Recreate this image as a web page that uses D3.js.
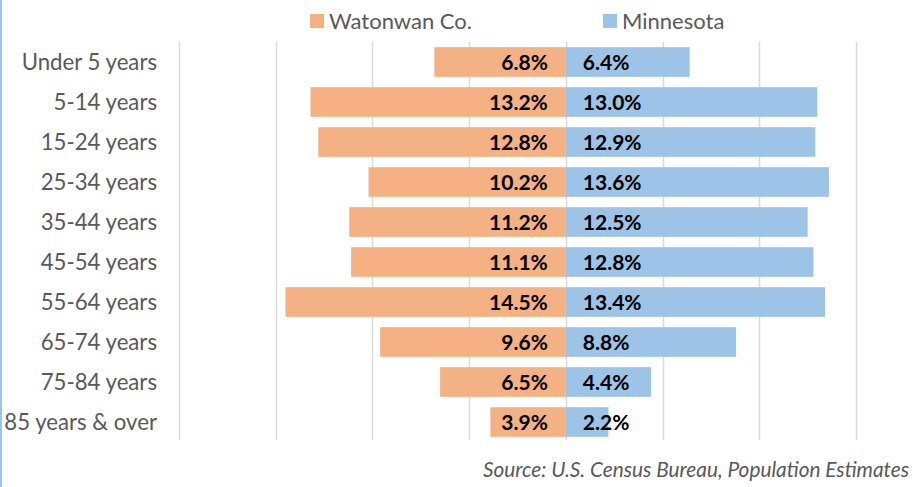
<!DOCTYPE html>
<html>
<head>
<meta charset="utf-8">
<script src="https://cdn.jsdelivr.net/npm/d3@7"></script>
<style>
  html, body { margin: 0; padding: 0; background: #fff; }
  svg { display: block; }
</style>
</head>
<body>
<svg id="chart" width="913" height="487"></svg>
<script>
const categories = ["Under 5 years","5-14 years","15-24 years","25-34 years","35-44 years","45-54 years","55-64 years","65-74 years","75-84 years","85 years & over"];
const watonwan = [6.8, 13.2, 12.8, 10.2, 11.2, 11.1, 14.5, 9.6, 6.5, 3.9];
const minnesota = [6.4, 13.0, 12.9, 13.6, 12.5, 12.8, 13.4, 8.8, 4.4, 2.2];
const seriesNames = ["Watonwan Co.", "Minnesota"];
const gridTicks = [-20, -15, -10, -5, 0, 5, 10, 15];
const sourceText = "Source: U.S. Census Bureau, Population Estimates";

const colors = ["#F4B183", "#9DC3E6"];
const font = "Lato, 'Noto Sans', sans-serif";

const svg = d3.select("#chart");
const x = d3.scaleLinear().domain([-20, 15]).range([179, 856]);
const y = d3.scaleBand().domain(categories).range([42, 442]).paddingInner(0.26).paddingOuter(0.13);

// left border line
svg.append("rect").attr("x", 0).attr("y", 0).attr("width", 2).attr("height", 487).attr("fill", "#9DC3E6");

// gridlines
svg.append("g").selectAll("line").data(gridTicks).join("line")
  .attr("x1", d => Math.round(x(d)) + 0.5).attr("x2", d => Math.round(x(d)) + 0.5)
  .attr("y1", 42).attr("y2", 440)
  .attr("stroke", "#D9D9D9").attr("stroke-width", 1.5);

// bars
const rows = categories.map((c, i) => ({c, w: watonwan[i], m: minnesota[i]}));
svg.append("g").selectAll("rect").data(rows).join("rect")
  .attr("x", d => x(-d.w)).attr("width", d => x(0) - x(-d.w))
  .attr("y", d => y(d.c)).attr("height", y.bandwidth())
  .attr("fill", colors[0]);
svg.append("g").selectAll("rect").data(rows).join("rect")
  .attr("x", d => x(0)).attr("width", d => x(d.m) - x(0))
  .attr("y", d => y(d.c)).attr("height", y.bandwidth())
  .attr("fill", colors[1]);

// data labels
svg.append("g").selectAll("text").data(rows).join("text")
  .attr("x", x(0) - 18).attr("y", d => y(d.c) + y.bandwidth() / 2)
  .attr("dy", "0.36em").attr("text-anchor", "end")
  .attr("font-family", font).attr("font-weight", "bold").attr("font-size", 21)
  .attr("fill", "#000").text(d => d.w.toFixed(1) + "%");
svg.append("g").selectAll("text").data(rows).join("text")
  .attr("x", x(0) + 17).attr("y", d => y(d.c) + y.bandwidth() / 2)
  .attr("dy", "0.36em").attr("text-anchor", "start")
  .attr("font-family", font).attr("font-weight", "bold").attr("font-size", 21)
  .attr("fill", "#000").text(d => d.m.toFixed(1) + "%");

// category axis
const yAxis = svg.append("g").attr("transform", "translate(157,0)")
  .call(d3.axisLeft(y).tickSize(0).tickPadding(0));
yAxis.select(".domain").remove();
yAxis.selectAll("text").attr("font-family", font).attr("font-size", 22.2).attr("fill", "#595959").attr("dy", "0.36em");

// legend
const legend = svg.append("g");
const legX = [310, 603];
seriesNames.forEach((n, i) => {
  legend.append("rect").attr("x", legX[i]).attr("y", 14).attr("width", 14).attr("height", 14).attr("fill", colors[i]);
  legend.append("text").attr("x", legX[i] + 19).attr("y", 21).attr("dy", "0.36em")
    .attr("font-family", font).attr("font-size", 22).attr("fill", "#595959").text(n);
});

// source
svg.append("text").attr("x", 909).attr("y", 477).attr("text-anchor", "end")
  .attr("font-family", font).attr("font-style", "italic").attr("font-size", 20.8)
  .attr("fill", "#595959").text(sourceText);
</script>
</body>
</html>
